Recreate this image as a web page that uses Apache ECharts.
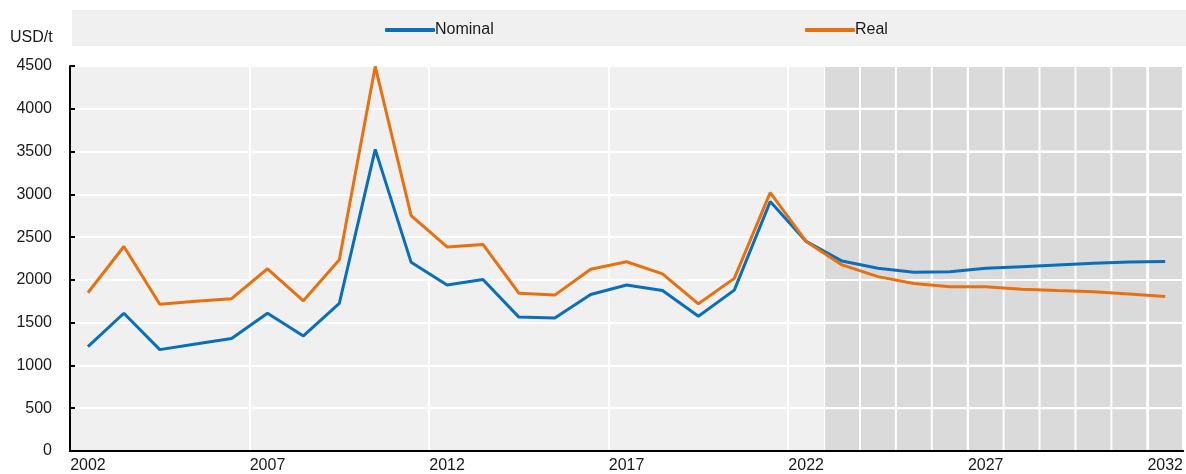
<!DOCTYPE html>
<html>
<head>
<meta charset="utf-8">
<script src="https://cdn.jsdelivr.net/npm/echarts@6/dist/echarts.min.js"></script>
<style>
  html, body { margin: 0; padding: 0; background: #ffffff; }
  #chart { width: 1186px; height: 474px; }
</style>
</head>
<body>
<div id="chart"></div>
<script>
// Years on the horizontal axis
const years = [];
for (let y = 2002; y <= 2032; y++) years.push(String(y));

// Price, USD per tonne
const nominal = [1220, 1610, 1185, 1250, 1315, 1610, 1345, 1725, 3525,
  2205, 1940, 2005, 1565, 1555, 1830, 1940, 1875, 1575, 1880, 2915, 2450,
  2220, 2135, 2090, 2095, 2135, 2155, 2175, 2195, 2210, 2215];
const real = [1850, 2390, 1715, 1750, 1780, 2130, 1755, 2235, 4495,
  2750, 2385, 2415, 1845, 1822, 2125, 2212, 2070, 1720, 2018, 3020, 2450,
  2175, 2038, 1958, 1920, 1920, 1890, 1875, 1862, 1836, 1805];

// Value-axis levels (tick marks and gridlines)
const yLevels = [0, 500, 1000, 1500, 2000, 2500, 3000, 3500, 4000, 4500];

// Projection period (shaded)
const projectionYears = years.filter(y => +y >= 2023);

const FONT = '"Liberation Sans", Arial, sans-serif';
const TXT = '#1a1a1a';
const FS = 16;

// One shaded column per projection year, split into cells at each gridline level
function renderShade(params, api) {
  const cat = api.value(0);
  const bandW = api.size([1, 0])[0];
  const cx = api.coord([cat, 0])[0];
  const x0 = cx - bandW / 2;
  const top = api.coord([cat, yLevels[yLevels.length - 1]])[1];
  const bottom = api.coord([cat, yLevels[0]])[1];
  const children = [{
    type: 'rect',
    shape: { x: x0, y: top, width: bandW, height: bottom - top },
    style: { fill: '#ffffff' }
  }];
  for (let k = 0; k < yLevels.length - 1; k++) {
    const last = k === yLevels.length - 2;
    const yHi = api.coord([cat, yLevels[k + 1]])[1];
    const yLo = api.coord([cat, yLevels[k]])[1];
    children.push({
      type: 'rect',
      shape: { x: x0 + 1, y: yHi + (last ? 0 : 1),
               width: bandW - 2, height: yLo - yHi - (last ? 1 : 2) },
      style: { fill: '#dadada' }
    });
  }
  return { type: 'group', children };
}

const chart = echarts.init(document.getElementById('chart'), null, { renderer: 'canvas' });

chart.setOption({
  animation: false,
  textStyle: { fontFamily: FONT, color: TXT },
  graphic: [
    { type: 'rect', left: 72, top: 10, shape: { width: 1114, height: 36 },
      style: { fill: '#f0f0f0' }, silent: true, z: -10 },
    { type: 'text', left: 10, top: 30,
      style: { text: 'USD/t', font: FS + 'px ' + FONT, fill: TXT } }
  ],
  legend: [
    { data: ['Nominal'], left: 380, top: 17, icon: 'roundRect', itemWidth: 50, itemHeight: 4,
      itemGap: 0, textStyle: { fontFamily: FONT, fontSize: FS, color: TXT, padding: [0, 0, 0, -5] } },
    { data: ['Real'], left: 800, top: 17, icon: 'roundRect', itemWidth: 50, itemHeight: 4,
      itemGap: 0, textStyle: { fontFamily: FONT, fontSize: FS, color: TXT, padding: [0, 0, 0, -5] } }
  ],
  grid: {
    left: 70, right: 2, top: 66, bottom: 23,
    show: true, backgroundColor: '#f0f0f0', borderWidth: 0
  },
  xAxis: {
    type: 'category',
    data: years,
    boundaryGap: true,
    z: 2,
    axisLine: { lineStyle: { color: '#000', width: 2 } },
    axisTick: { inside: true, length: 5, interval: 4, lineStyle: { color: '#000', width: 2 } },
    axisLabel: { interval: 4, margin: 7, fontFamily: FONT, fontSize: FS, color: TXT },
    splitLine: { show: true, interval: 4, lineStyle: { color: '#ffffff', width: 2 } }
  },
  yAxis: {
    type: 'value',
    min: 0, max: 4500, interval: 500,
    z: 2,
    axisLine: { show: true, lineStyle: { color: '#000', width: 2 } },
    axisTick: { show: true, inside: true, length: 5, lineStyle: { color: '#000', width: 2 } },
    axisLabel: { margin: 18, fontFamily: FONT, fontSize: FS, color: TXT,
      formatter: v => String(v) },
    splitLine: { show: true, lineStyle: { color: '#ffffff', width: 2 } }
  },
  series: [
    { name: 'Projection', type: 'custom', renderItem: renderShade, silent: true, z: 1,
      clip: true, data: projectionYears.map(y => [y, 4500]) },
    { name: 'Nominal', type: 'line', data: nominal, symbol: 'none',
      lineStyle: { color: '#0a6fba', width: 3 }, itemStyle: { color: '#0a6fba' }, z: 4 },
    { name: 'Real', type: 'line', data: real, symbol: 'none',
      lineStyle: { color: '#e8700e', width: 3 }, itemStyle: { color: '#e8700e' }, z: 5 }
  ]
});
</script>
</body>
</html>
